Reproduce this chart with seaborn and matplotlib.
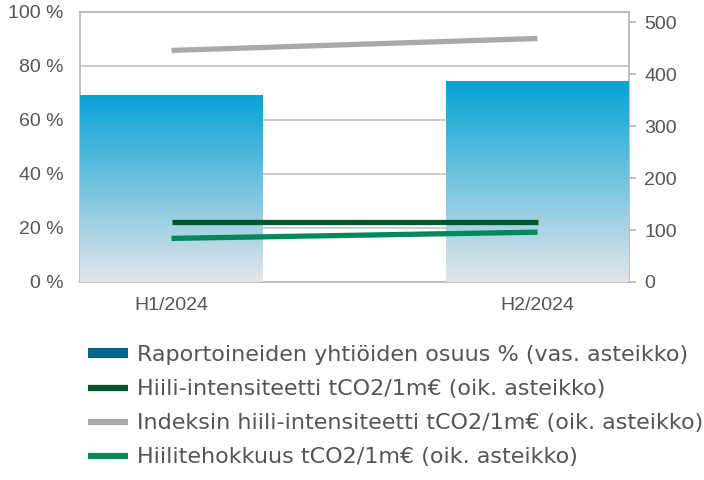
import numpy as np
import pandas as pd
import matplotlib
matplotlib.use("Agg")
import matplotlib.pyplot as plt
import seaborn as sns
from matplotlib.colors import LinearSegmentedColormap
from matplotlib.patches import Patch
from matplotlib.lines import Line2D

# Data
periods = ["H1/2024", "H2/2024"]
reporting_share = [69.3, 74.4]          # % (left axis)
carbon_intensity = [116, 116]           # tCO2/1m€ (right axis)
index_carbon_intensity = [446, 469]     # tCO2/1m€ (right axis)
carbon_efficiency = [84, 96]            # tCO2/1m€ (right axis)

left_ticks = [0, 20, 40, 60, 80, 100]
right_ticks = [0, 100, 200, 300, 400, 500]

legend_labels = [
    "Raportoineiden yhtiöiden osuus % (vas. asteikko)",
    "Hiili-intensiteetti tCO2/1m€ (oik. asteikko)",
    "Indeksin hiili-intensiteetti tCO2/1m€ (oik. asteikko)",
    "Hiilitehokkuus tCO2/1m€ (oik. asteikko)",
]

BAR_TOP = "#05A3D6"
BAR_BOTTOM = "#E4E5E9"
BAR_LEGEND = "#00698A"
DARK_GREEN = "#00572B"
GREY = "#A9A9A9"
GREEN = "#00895A"
AXIS_GREY = "#B4B4B4"
TEXT = "#555555"

sns.set_theme(style="white")
plt.rcParams["font.family"] = ["Liberation Sans", "DejaVu Sans"]

W, H = 704, 480
fig = plt.figure(figsize=(W / 100, H / 100), dpi=100)
ax = fig.add_axes([80 / W, 1 - 282 / H, 549 / W, 270 / H])

df = pd.DataFrame({"period": periods, "share": reporting_share})
sns.barplot(data=df, x="period", y="share", ax=ax, width=0.5,
            color=BAR_TOP, edgecolor="none", zorder=2)

# vertical gradient fill inside each bar
cmap = LinearSegmentedColormap.from_list("bar_grad", [BAR_BOTTOM, BAR_TOP])
grad = np.linspace(0, 1, 256).reshape(-1, 1)
for patch in ax.patches:
    x0, y0 = patch.get_x(), patch.get_y()
    w, h = patch.get_width(), patch.get_height()
    patch.set_facecolor("none")
    im = ax.imshow(grad, extent=[x0, x0 + w, y0, y0 + h], origin="lower",
                   aspect="auto", cmap=cmap, zorder=2, interpolation="bicubic")
    im.set_clip_path(patch)

ax.set_xlim(-0.25, 1.25)
ax.set_ylim(0, 100)
ax.set_yticks(left_ticks)
ax.set_yticklabels([f"{v} %" for v in left_ticks])
ax.set_xlabel("")
ax.set_ylabel("")
ax.set_axisbelow(True)
ax.yaxis.grid(True, color="#C4C4C4", lw=1.2, zorder=0.5)
ax.xaxis.grid(False)
for side, sp in ax.spines.items():
    sp.set_visible(True)
    sp.set_color(AXIS_GREY)
    sp.set_linewidth(1.2)
    sp.set_zorder(1)
ax.tick_params(axis="y", length=0, pad=12, labelsize=14, labelcolor=TEXT)
ax.tick_params(axis="x", length=0, pad=11, labelsize=14, labelcolor=TEXT)

# right axis lines
ax2 = ax.twinx()
pos = np.arange(len(periods))
lines_df = pd.DataFrame({
    "pos": pos,
    "carbon": carbon_intensity,
    "index": index_carbon_intensity,
    "eff": carbon_efficiency,
})
for col, colour in [("index", GREY), ("carbon", DARK_GREEN), ("eff", GREEN)]:
    sns.lineplot(data=lines_df, x="pos", y=col, ax=ax2, color=colour,
                 lw=3.8, solid_capstyle="butt", legend=False)
ax2.set_ylim(0, 520)
ax2.set_yticks(right_ticks)
ax2.set_yticklabels([str(v) for v in right_ticks])
ax2.set_xlim(-0.25, 1.25)
ax2.set_xlabel("")
ax2.set_ylabel("")
for sp in ax2.spines.values():
    sp.set_visible(False)
ax2.tick_params(axis="y", right=True, length=5, width=1.2, color=AXIS_GREY,
                pad=6, labelsize=14, labelcolor=TEXT)
ax2.grid(False)

handles = [
    Patch(facecolor=BAR_LEGEND, edgecolor="none"),
    Line2D([], [], color=DARK_GREEN, lw=4.5, solid_capstyle="butt"),
    Line2D([], [], color=GREY, lw=4.5, solid_capstyle="butt"),
    Line2D([], [], color=GREEN, lw=4.5, solid_capstyle="butt"),
]
fig.legend(handles, legend_labels, loc="upper left",
           bbox_to_anchor=(88 / W, 1 - 345 / H), frameon=False,
           prop={"family": ["DejaVu Sans"], "size": 16},
           handlelength=1.8, handleheight=0.32, handletextpad=0.42,
           labelspacing=0.63, borderpad=0, borderaxespad=0,
           labelcolor=TEXT)

fig.savefig("out.png", dpi=100)
